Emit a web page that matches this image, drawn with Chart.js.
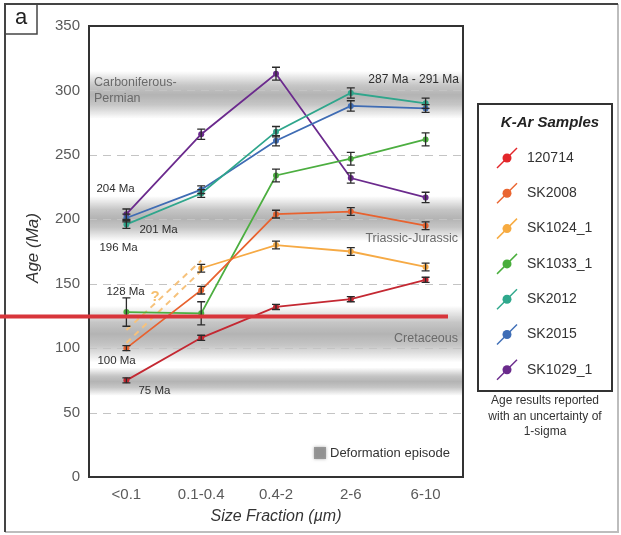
<!DOCTYPE html>
<html>
<head>
<meta charset="utf-8">
<script src="https://cdn.jsdelivr.net/npm/chart.js@4.4.0/dist/chart.umd.min.js"></script>
<style>
  html, body { margin: 0; padding: 0; background: #fff; }
  #wrap { position: relative; width: 621px; height: 535px; }
</style>
</head>
<body>
<div id="wrap"><canvas id="chart" width="621" height="535"></canvas></div>
<script>
// --- data ---
const sizeFractions = ['<0.1', '0.1-0.4', '0.4-2', '2-6', '6-10'];
const yTicks = [0, 50, 100, 150, 200, 250, 300, 350];

const sampleNames = ['120714', 'SK2008', 'SK1024_1', 'SK1033_1', 'SK2012', 'SK2015', 'SK1029_1'];

const age120714 = [75, 108, 132, 138, 153];
const ageSK2008 = [100, 145, 204, 206, 195];
const ageSK1024 = [null, 162, 180, 175, 163];
const ageSK1033 = [128, 127, 234, 247, 262];
const ageSK2012 = [196, 220, 268, 298, 290];
const ageSK2015 = [201, 223, 261, 288, 286];
const ageSK1029 = [204, 266, 313, 232, 217];

const err120714 = [2, 2, 2, 2, 2];
const errSK2008 = [2, 3, 3, 3, 3];
const errSK1024 = [null, 3, 3, 3, 3];
const errSK1033 = [11, 9, 5, 5, 5];
const errSK2012 = [3, 3, 4, 4, 4];
const errSK2015 = [3, 3, 4, 4, 3];
const errSK1029 = [4, 4, 5, 4, 4];

// uncertain link for SK1024_1 at <0.1 (the "?" dashed lines)
const sk1024GuessA = [104, 160, null, null, null];
const sk1024GuessB = [114, 168, null, null, null];

// deformation episodes (Ma): low, high
const bandLow  = [278, 183, 89, 63];
const bandHigh = [315, 218, 133, 85];

const redLineAge = 124.5;

const sampleAges = [age120714, ageSK2008, ageSK1024, ageSK1033, ageSK2012, ageSK2015, ageSK1029];
const sampleErrs = [err120714, errSK2008, errSK1024, errSK1033, errSK2012, errSK2015, errSK1029];
const sampleColors = ['#c42832', '#e8622f', '#f6aa45', '#4cae40', '#2fa68c', '#3f6cb4', '#6b2a8d'];
const legendColors = ['#e3262a', '#ea6530', '#f7ab40', '#49ae3c', '#2fa88c', '#3e6db6', '#6a2a8c'];

Chart.defaults.font.family = '"Liberation Sans", Arial, sans-serif';

const txt = (ctx, s, x, y, font, color, align) => {
  ctx.font = font;
  ctx.fillStyle = color;
  ctx.textAlign = align || 'left';
  ctx.textBaseline = 'middle';
  ctx.fillText(s, x, y);
};

const backdrop = {
  id: 'backdrop',
  beforeDatasetsDraw(chart) {
    const { ctx, chartArea: a, scales: { y } } = chart;
    ctx.save();
    // gray deformation bands
    bandLow.forEach((lo, i) => {
      const top = y.getPixelForValue(bandHigh[i]);
      const bot = y.getPixelForValue(lo);
      const g = ctx.createLinearGradient(0, top, 0, bot);
      g.addColorStop(0, 'rgba(150,150,150,0)');
      g.addColorStop(0.3, 'rgba(150,150,150,0.55)');
      g.addColorStop(0.5, 'rgba(150,150,150,0.72)');
      g.addColorStop(0.7, 'rgba(150,150,150,0.55)');
      g.addColorStop(1, 'rgba(150,150,150,0)');
      ctx.fillStyle = g;
      ctx.fillRect(a.left, top, a.right - a.left, bot - top);
    });
    // dashed grid
    ctx.strokeStyle = '#c4c4c4';
    ctx.lineWidth = 1;
    ctx.setLineDash([8, 6]);
    y.ticks.forEach(t => {
      if (t.value === 0 || t.value === 350) return;
      const py = Math.round(y.getPixelForValue(t.value)) + 0.5;
      ctx.beginPath(); ctx.moveTo(a.left, py); ctx.lineTo(a.right, py); ctx.stroke();
    });
    ctx.setLineDash([]);
    // band labels
    const f = '12.5px "Liberation Sans", Arial, sans-serif';
    const c = '#6a6a6a';
    txt(ctx, 'Carboniferous-', a.left + 5, 83, f, c);
    txt(ctx, 'Permian', a.left + 5, 99, f, c);
    txt(ctx, 'Triassic-Jurassic', a.right - 5, 239, f, c, 'right');
    txt(ctx, 'Cretaceous', a.right - 5, 339, f, c, 'right');
    // '?' for the uncertain link
    txt(ctx, '?', 155, 297, 'bold 15px "Liberation Sans", Arial, sans-serif', '#f6c070', 'center');
    ctx.restore();
  },
  afterDatasetsDraw(chart) {
    const { ctx, chartArea: a, scales: { x, y } } = chart;
    ctx.save();
    // error bars (1-sigma)
    ctx.strokeStyle = '#2a2a2a';
    ctx.lineWidth = 1.3;
    chart.data.datasets.forEach((ds, i) => {
      if (!ds.errors) return;
      const meta = chart.getDatasetMeta(i);
      ds.data.forEach((v, j) => {
        const e = ds.errors[j];
        if (v == null || e == null) return;
        const px = meta.data[j].x;
        const t = y.getPixelForValue(v + e), b = y.getPixelForValue(v - e);
        ctx.beginPath();
        ctx.moveTo(px, t); ctx.lineTo(px, b);
        ctx.moveTo(px - 4, t); ctx.lineTo(px + 4, t);
        ctx.moveTo(px - 4, b); ctx.lineTo(px + 4, b);
        ctx.stroke();
      });
    });
    // age annotations
    const f = '11.5px "Liberation Sans", Arial, sans-serif';
    const c = '#2e2e2e';
    const x0 = x.getPixelForValue(0);
    txt(ctx, '204 Ma', x0 - 30, y.getPixelForValue(ageSK1029[0]) - 25, f, c);
    txt(ctx, '201 Ma', x0 + 13, y.getPixelForValue(ageSK2015[0]) + 12, f, c);
    txt(ctx, '196 Ma', x0 - 27, y.getPixelForValue(ageSK2012[0]) + 23, f, c);
    txt(ctx, '128 Ma', x0 - 20, y.getPixelForValue(ageSK1033[0]) - 20, f, c);
    txt(ctx, '100 Ma', x0 - 29, y.getPixelForValue(ageSK2008[0]) + 13, f, c);
    txt(ctx, '75 Ma', x0 + 12, y.getPixelForValue(age120714[0]) + 10, f, c);
    txt(ctx, '287 Ma - 291 Ma', a.right - 4, 80, '12px "Liberation Sans", Arial, sans-serif', c, 'right');
    // deformation legend
    ctx.fillStyle = 'rgba(140,140,140,0.85)';
    ctx.shadowColor = 'rgba(140,140,140,0.8)';
    ctx.shadowBlur = 3;
    ctx.fillRect(314, 447, 12, 12);
    ctx.shadowBlur = 0;
    txt(ctx, 'Deformation episode', 330, 453, '13px "Liberation Sans", Arial, sans-serif', '#333');
    ctx.restore();
  },
  afterDraw(chart) {
    const { ctx, chartArea: a, scales: { y } } = chart;
    ctx.save();
    // plot frame
    ctx.strokeStyle = '#333';
    ctx.lineWidth = 2;
    ctx.strokeRect(a.left, a.top, a.right - a.left, a.bottom - a.top);
    // axis titles
    txt(ctx, 'Size Fraction (\u00b5m)', (a.left + a.right) / 2, 517, 'italic 16px "Liberation Sans", Arial, sans-serif', '#333', 'center');
    ctx.save();
    ctx.translate(33, 248);
    ctx.rotate(-Math.PI / 2);
    txt(ctx, 'Age (Ma)', 0, 0, 'italic 17px "Liberation Sans", Arial, sans-serif', '#333', 'center');
    ctx.restore();
    // outer figure frame + panel letter
    ctx.lineWidth = 2;
    ctx.strokeStyle = '#bdbdbd';
    ctx.beginPath(); ctx.moveTo(618, 4); ctx.lineTo(618, 532); ctx.lineTo(5, 532); ctx.stroke();
    ctx.strokeStyle = '#444';
    ctx.beginPath(); ctx.moveTo(5, 532); ctx.lineTo(5, 4); ctx.lineTo(618, 4); ctx.stroke();
    ctx.lineWidth = 1.5;
    ctx.strokeRect(5, 4, 32, 30);
    txt(ctx, 'a', 21, 18, '22px "Liberation Sans", Arial, sans-serif', '#222', 'center');
    // sample legend
    ctx.lineWidth = 2;
    ctx.strokeStyle = '#333';
    ctx.strokeRect(478, 104, 134, 287);
    txt(ctx, 'K-Ar Samples', 550, 123, 'italic bold 15px "Liberation Sans", Arial, sans-serif', '#222', 'center');
    sampleNames.forEach((n, i) => {
      const cy = 158 + i * 35.3, cx = 507;
      ctx.strokeStyle = legendColors[i];
      ctx.lineWidth = 1.5;
      ctx.beginPath(); ctx.moveTo(cx - 10, cy + 10); ctx.lineTo(cx + 10, cy - 10); ctx.stroke();
      ctx.fillStyle = legendColors[i];
      ctx.beginPath(); ctx.arc(cx, cy, 4.5, 0, Math.PI * 2); ctx.fill();
      txt(ctx, n, 527, cy, '14px "Liberation Sans", Arial, sans-serif', '#333');
    });
    const nf = '12px "Liberation Sans", Arial, sans-serif';
    txt(ctx, 'Age results reported', 545, 401, nf, '#333', 'center');
    txt(ctx, 'with an uncertainty of', 545, 417, nf, '#333', 'center');
    txt(ctx, '1-sigma', 545, 432, nf, '#333', 'center');
    // red overlay line
    const ry = y.getPixelForValue(redLineAge);
    ctx.strokeStyle = '#d8353b';
    ctx.lineWidth = 4;
    ctx.beginPath(); ctx.moveTo(0, ry); ctx.lineTo(a.right - 15, ry); ctx.stroke();
    ctx.restore();
  }
};

const datasets = sampleNames.map((name, i) => ({
  label: name,
  data: sampleAges[i],
  errors: sampleErrs[i],
  borderColor: sampleColors[i],
  backgroundColor: sampleColors[i],
  borderWidth: 1.8,
  pointRadius: 3,
  pointHoverRadius: 3,
  pointBorderWidth: 0,
  tension: 0
}));
[sk1024GuessA, sk1024GuessB].forEach((d, k) => datasets.push({
  label: 'SK1024_1 ?' + k,
  data: d,
  borderColor: '#f6c27c',
  borderWidth: 2,
  borderDash: [6, 5],
  pointRadius: 0,
  tension: 0
}));

new Chart(document.getElementById('chart'), {
  type: 'line',
  data: { labels: sizeFractions, datasets },
  options: {
    responsive: false,
    animation: false,
    devicePixelRatio: 1,
    layout: { padding: { top: 26, right: 158, left: 0, bottom: 0 } },
    plugins: { legend: { display: false }, tooltip: { enabled: false } },
    scales: {
      x: {
        offset: true,
        grid: { display: false, drawTicks: false },
        border: { display: false },
        ticks: { color: '#5a5a5a', font: { size: 15 }, padding: 9 },
        afterFit: s => { s.height = 58; }
      },
      y: {
        min: 0, max: 350,
        grid: { display: false, drawTicks: false },
        border: { display: false },
        afterBuildTicks: s => { s.ticks = yTicks.map(v => ({ value: v })); },
        ticks: { color: '#5a5a5a', font: { size: 15 }, padding: 9 },
        afterFit: s => { s.width = 89; }
      }
    }
  },
  plugins: [backdrop]
});
</script>
</body>
</html>
